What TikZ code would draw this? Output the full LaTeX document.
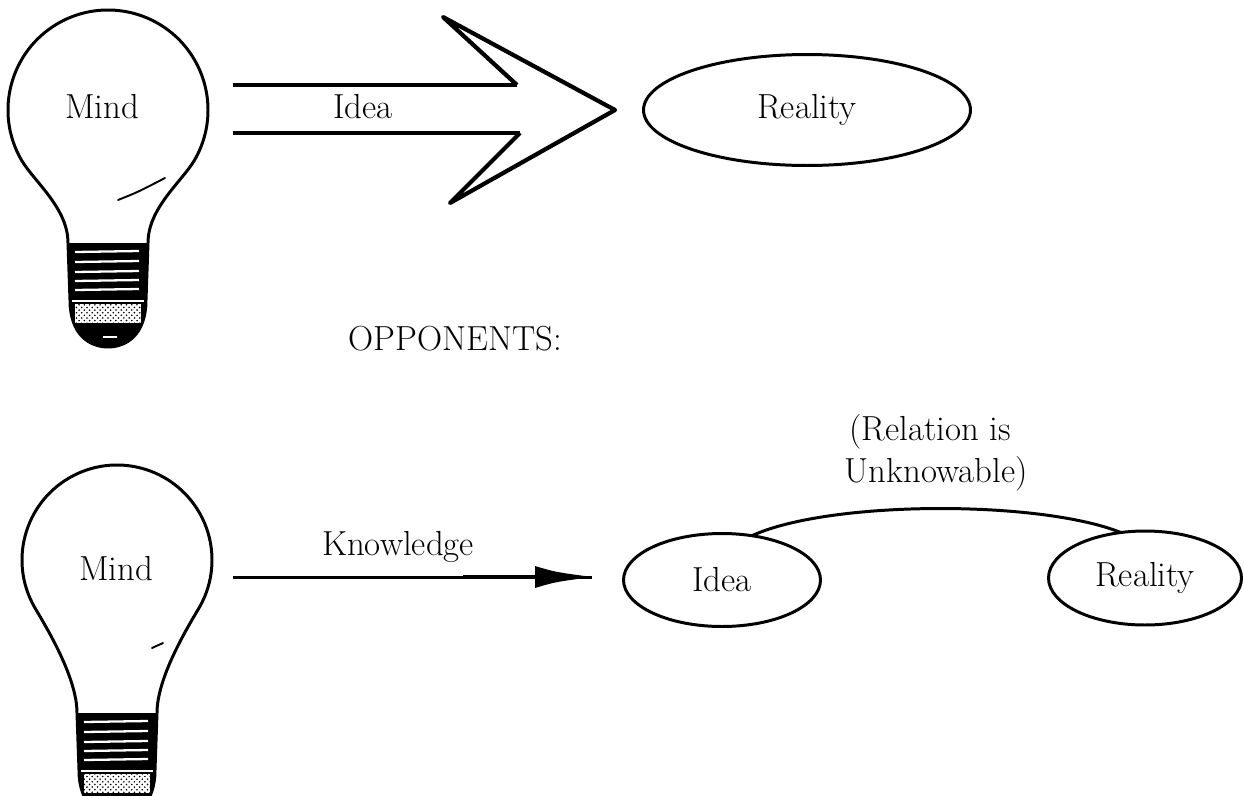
\documentclass[tikz,border=0pt]{standalone}
\usetikzlibrary{shapes.geometric,calc,patterns}
\newcommand\drawbulb[5]{% #1 name, #2 cx, #3 cy, #4 radius, #5 y of base top
  \coordinate (#1) at (#2,#3);
  % screw threads
  \fill ({#2-40},{#5}) -- ({#2+40},{#5}) -- ({#2+38},{#5+57}) -- ({#2-38},{#5+57}) -- cycle;
  \foreach \k in {9,19,29,38,47}{
    \draw[white, line width=1.3pt] ({#2-33},{#5+\k}) -- ({#2+31},{#5+\k-1});
  }
  % cap
  \fill ({#2+38},{#5+57}) .. controls ({#2+38},{#5+92}) and ({#2+18},{#5+104}) .. ({#2},{#5+104})
        .. controls ({#2-18},{#5+104}) and ({#2-38},{#5+92}) .. ({#2-38},{#5+57}) -- cycle;
  \fill[white] ({#2-33},{#5+61}) rectangle ({#2+33},{#5+80});
  \fill[pattern=crosshatch dots] ({#2-33},{#5+61}) rectangle ({#2+33},{#5+80});
  \draw[white, line width=1.3pt] ({#2-36},{#5+58}) -- ({#2+36},{#5+58});
  \draw[white, line width=1.2pt] ({#2-5},{#5+94}) -- ({#2+9},{#5+94});
  % outline
  \draw[ln] ({#2-40},{#5}) .. controls ({#2-40},{#5-35}) and ({#2+#4*cos(150)+13},{#3+#4*sin(150)+22}) .. ({#2+#4*cos(150)},{#3+#4*sin(150)})
    arc[start angle=150,end angle=390,radius=#4]
    .. controls ({#2+#4*cos(30)-13},{#3+#4*sin(30)+22}) and ({#2+40},{#5-35}) .. ({#2+40},{#5})
    -- ({#2+38},{#5+57})
    .. controls ({#2+38},{#5+92}) and ({#2+18},{#5+104}) .. ({#2},{#5+104})
    .. controls ({#2-18},{#5+104}) and ({#2-38},{#5+92}) .. ({#2-38},{#5+57})
    -- cycle;
}
\begin{document}
\begin{tikzpicture}[x=0.02cm,y=-0.02cm, line join=round,
  lbl/.style={font=\fontsize{19.8}{23.8}\selectfont, inner sep=0pt, anchor=base},
  oval/.style={draw, ellipse, line width=1.7pt, inner sep=0pt, outer sep=0pt,
               font=\fontsize{19.8}{23.8}\selectfont},
  ln/.style={line width=1.7pt},
  thin/.style={line width=1.1pt, line cap=round}]
\useasboundingbox (0,0) rectangle (1244,795);
\clip (0,0) rectangle (1244,795);

% ---------- top row ----------
\drawbulb{bulbA}{108}{110}{100}{243}
\draw[thin] (118,200) .. controls (138,192) .. (165,178);
\node[lbl] (mindA) at (102,118) {Mind};

\coordinate (shU0) at (233,85);
\coordinate (shU1) at (517,85);
\coordinate (hdU)  at (443,17);
\coordinate (tip)  at (615,110);
\coordinate (hdL)  at (450,203);
\coordinate (shL1) at (520,133);
\coordinate (shL0) at (233,133);
\draw[line width=1.8pt] (shU0) -- (shU1);
\draw[line width=1.8pt] (shL1) -- (shL0);
\draw[line width=2.4pt] (shU1) -- (hdU) -- (tip) -- (hdL) -- (shL1);
\node[lbl] (ideaA) at (363,118) {Idea};

\node[oval, minimum width=6.54cm, minimum height=2.22cm] (realA) at (807,110) {Reality};

\node[lbl, anchor=base west] (opp) at (348,350) {OPPONENTS:};

% ---------- bottom row ----------
\drawbulb{bulbB}{117}{560}{95}{713}
\draw[thin] (152,648) -- (163,643);
\node[lbl] (mindB) at (116,580) {Mind};

\node[oval, minimum width=3.94cm, minimum height=1.86cm] (ideaB) at (722,580) {Idea};
\node[oval, minimum width=3.86cm, minimum height=1.88cm] (realB) at (1145,578) {Reality};

\coordinate (k0) at (233,577);
\coordinate (k1) at (592,577);
\draw[ln] (k0) -- (k1);
\draw[line width=2.4pt] (463,577) -- (540,577);
\fill (535,566) .. controls (555,572) .. (k1) .. controls (555,582) .. (535,588) -- cycle;
\node[lbl] (know) at (398,555) {Knowledge};

\draw[ln] (ideaB.56) .. controls (830,500) and (1040,500) .. (realB.118);
\node[lbl] (rel1) at (930,440) {(Relation is};
\node[lbl] (rel2) at (936,482) {Unknowable)};
\end{tikzpicture}
\end{document}
